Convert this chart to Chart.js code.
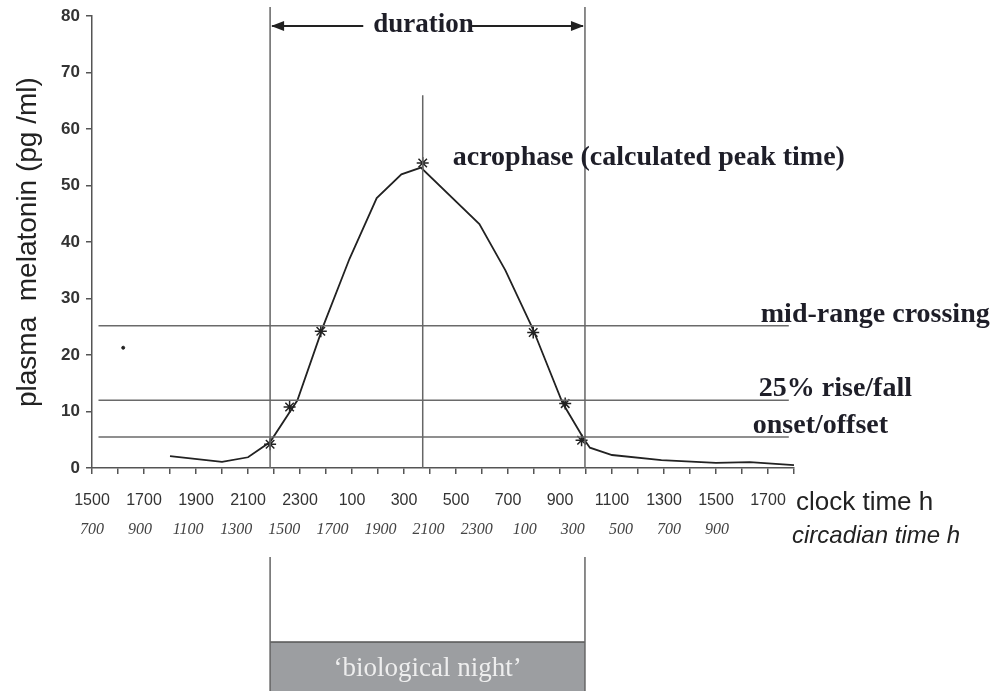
<!DOCTYPE html>
<html lang="en">
<head>
<meta charset="UTF-8">
<title>Plasma melatonin profile</title>
<script src="https://cdn.jsdelivr.net/npm/chart.js"></script>
<style>
  html, body { margin: 0; padding: 0; background: #fff; }
</style>
</head>
<body>
<canvas id="grafica" width="993" height="691"></canvas>
<script>
// x values are hours after 1500 clock time (0 = 1500, 27 = 1800 next day)
const clockLabels = ['1500','1700','1900','2100','2300','100','300','500','700','900','1100','1300','1500','1700'];
const circadianLabels = ['700','900','1100','1300','1500','1700','1900','2100','2300','100','300','500','700','900'];

// melatonin profile (pg/ml)
const sampleHours = [3, 5, 6, 6.85, 7.9, 8.9, 9.9, 10.95, 11.9, 12.65, 14.9, 15.9, 16.95, 18.1, 18.95, 19.15, 20.0, 21.9, 24.0, 25.3, 27];
const melatonin   = [2.1, 1.1, 1.9, 4.6, 12, 25.2, 37, 47.8, 52, 53.2, 43.2, 35, 24.7, 11.5, 4.9, 3.6, 2.3, 1.4, 0.9, 1.05, 0.5];

// asterisks: onset, 25% rise, mid rise, acrophase, mid fall, 25% fall, offset
const markerHours  = [6.85, 7.6, 8.8, 12.72, 16.97, 18.2, 18.83];
const markerValues = [4.2, 10.8, 24.2, 54, 24.0, 11.4, 4.9];

// horizontal reference levels
const thresholdNames  = ['mid-range crossing', '25% rise/fall', 'onset/offset'];
const thresholdValues = [25.2, 12, 5.5];
const thresholdStart = 0.25;
const thresholdEnd = 26.8;

const onsetHour = 6.85;
const offsetHour = 18.96;
const acrophaseHour = 12.72;
const acrophaseTop = 66;
const strayPoint = { x: 1.2, y: 21.3 };

const serif = "'Liberation Serif', 'Times New Roman', serif";
const sans = "'Liberation Sans', Arial, sans-serif";

// lines, arrow and texts that sit around the plot
const annotations = {
  id: 'annotations',
  afterDraw(chart) {
    const { ctx, chartArea } = chart;
    const x = chart.scales.x, y = chart.scales.y;
    const xOn = x.getPixelForValue(onsetHour);
    const xOff = x.getPixelForValue(offsetHour);
    const xAcro = x.getPixelForValue(acrophaseHour);
    const mid = (xOn + xOff) / 2;
    ctx.save();

    // biological night box
    ctx.fillStyle = '#9c9ea1';
    ctx.fillRect(xOn, 642, xOff - xOn, chart.height - 642);
    ctx.strokeStyle = '#555';
    ctx.lineWidth = 1.5;
    ctx.beginPath();
    ctx.moveTo(xOn, 642); ctx.lineTo(xOff, 642);
    ctx.stroke();
    ctx.fillStyle = '#eeeeee';
    ctx.font = '27px ' + serif;
    ctx.textAlign = 'center';
    ctx.textBaseline = 'middle';
    ctx.fillText('\u2018biological night\u2019', mid, 669);

    // vertical lines
    ctx.strokeStyle = '#666';
    ctx.lineWidth = 1.5;
    ctx.beginPath();
    [xOn, xOff].forEach(px => {
      ctx.moveTo(px, 7); ctx.lineTo(px, chartArea.bottom);
      ctx.moveTo(px, 557); ctx.lineTo(px, chart.height);
    });
    ctx.moveTo(xAcro, y.getPixelForValue(acrophaseTop));
    ctx.lineTo(xAcro, chartArea.bottom);
    ctx.stroke();

    // duration arrow
    ctx.font = 'bold 27px ' + serif;
    ctx.fillStyle = '#1e1e28';
    ctx.textAlign = 'center';
    ctx.textBaseline = 'alphabetic';
    const w = ctx.measureText('duration').width;
    const cx = mid - 4;
    const ay = 26;
    ctx.fillText('duration', cx, 32);
    ctx.strokeStyle = '#222';
    ctx.lineWidth = 2;
    ctx.beginPath();
    ctx.moveTo(xOn + 2, ay); ctx.lineTo(cx - w / 2 - 10, ay);
    ctx.moveTo(cx + w / 2 - 2, ay); ctx.lineTo(xOff - 2, ay);
    ctx.stroke();
    ctx.fillStyle = '#222';
    ctx.beginPath();
    ctx.moveTo(xOn + 1, ay); ctx.lineTo(xOn + 14, ay - 5); ctx.lineTo(xOn + 14, ay + 5); ctx.closePath();
    ctx.moveTo(xOff - 1, ay); ctx.lineTo(xOff - 14, ay - 5); ctx.lineTo(xOff - 14, ay + 5); ctx.closePath();
    ctx.fill();

    // labels
    ctx.fillStyle = '#1e1e28';
    ctx.textAlign = 'left';
    ctx.font = 'bold 28px ' + serif;
    ctx.fillText('acrophase (calculated peak time)', xAcro + 30, y.getPixelForValue(markerValues[3]) + 2);
    const shifts = [28, 30, 36];
    thresholdNames.forEach((name, i) => {
      ctx.fillText(name, x.getPixelForValue(thresholdEnd) - shifts[i], y.getPixelForValue(thresholdValues[i]) - 4);
    });

    ctx.fillStyle = '#222';
    ctx.font = '26px ' + sans;
    ctx.fillText('clock time h', x.getPixelForValue(27) + 2, chartArea.bottom + 42);
    ctx.font = 'italic 24px ' + sans;
    ctx.fillText('circadian time h', x.getPixelForValue(27) - 2, chartArea.bottom + 75);
    ctx.restore();
  }
};

const ctx = document.getElementById('grafica').getContext('2d');
new Chart(ctx, {
  type: 'scatter',
  data: {
    datasets: [
      ...thresholdValues.map(v => ({
        data: [{ x: thresholdStart, y: v }, { x: thresholdEnd, y: v }],
        showLine: true, borderColor: '#6a6a6a', borderWidth: 1.5, pointRadius: 0
      })),
      {
        data: sampleHours.map((h, i) => ({ x: h, y: melatonin[i] })),
        showLine: true, borderColor: '#222', borderWidth: 1.8, pointRadius: 0, tension: 0
      },
      {
        data: markerHours.map((h, i) => ({ x: h, y: markerValues[i] })),
        pointStyle: 'star', pointRadius: 6, borderColor: '#222', backgroundColor: '#222', borderWidth: 1.5
      },
      {
        data: [strayPoint],
        pointRadius: 1.5, borderColor: '#222', backgroundColor: '#222'
      }
    ]
  },
  options: {
    responsive: false,
    animation: false,
    layout: { padding: { top: 14, right: 199, bottom: 133, left: 0 } },
    plugins: { legend: { display: false }, tooltip: { enabled: false } },
    scales: {
      x: {
        type: 'linear', position: 'bottom', min: 0, max: 27,
        afterFit: s => { s.height = 50; },
        border: { color: '#555', width: 1.5 },
        grid: { drawOnChartArea: false, color: '#555', tickLength: 6, lineWidth: 1.5 },
        ticks: {
          stepSize: 1, autoSkip: false, maxRotation: 0, padding: 17, color: '#333',
          font: { family: sans, size: 16 },
          callback: v => (v % 2 === 0 ? (clockLabels[v / 2] || '') : '')
        }
      },
      x2: {
        type: 'linear', position: 'bottom', weight: 1, min: 0, max: 29.2,
        afterFit: s => { s.height = 40; },
        border: { display: false },
        grid: { display: false, drawTicks: false },
        ticks: {
          stepSize: 2, autoSkip: false, maxRotation: 0, padding: 2, color: '#444',
          font: { family: serif, size: 16, style: 'italic' },
          callback: (v, i) => circadianLabels[i] || ''
        }
      },
      y: {
        min: 0, max: 80,
        afterFit: s => { s.width = 92; },
        border: { color: '#555', width: 1.5 },
        grid: { drawOnChartArea: false, color: '#555', tickLength: 6, lineWidth: 1.5 },
        ticks: { stepSize: 10, padding: 6, color: '#333', font: { family: sans, size: 17, weight: 'bold' } },
        title: {
          display: true, text: 'plasma  melatonin (pg /ml)', color: '#222',
          font: { family: sans, size: 28 }, padding: { top: 11, bottom: 0 }
        }
      }
    }
  },
  plugins: [annotations]
});
</script>
</body>
</html>
